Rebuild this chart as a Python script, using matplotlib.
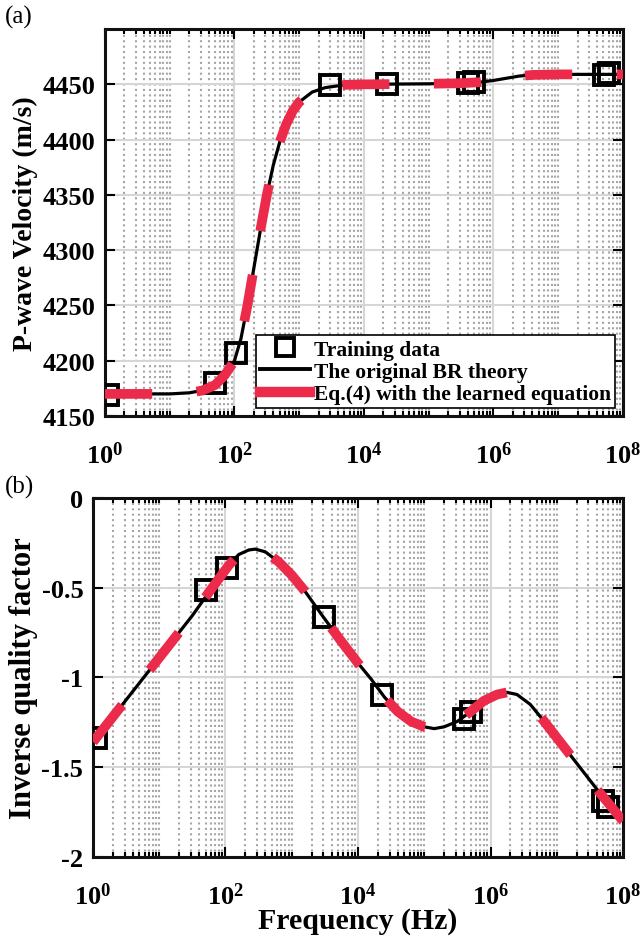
import numpy as np
import matplotlib
matplotlib.use("Agg")
import matplotlib.pyplot as plt
from matplotlib.lines import Line2D
from matplotlib.ticker import FixedLocator, FixedFormatter, NullFormatter

plt.rcParams['font.family'] = ['Liberation Serif', 'DejaVu Serif']
plt.rcParams['font.weight'] = 'bold'
plt.rcParams['mathtext.fontset'] = 'custom'
plt.rcParams['mathtext.rm'] = 'Liberation Serif:bold'
plt.rcParams['mathtext.bf'] = 'Liberation Serif:bold'
plt.rcParams['lines.scale_dashes'] = False

RED = '#EC2B4A'

# training samples, x as log10(frequency / Hz)
train_logf = [0.05, 1.70, 2.03, 3.48, 4.36, 5.60, 5.70, 7.70, 7.78]
train_vp = [4169, 4180, 4207, 4449, 4450, 4451, 4452, 4458, 4460]
train_q = [-1.34, -0.51, -0.39, -0.665, -1.10, -1.23, -1.19, -1.69, -1.72]

# BR theory curves
vp_logf = [0.0, 0.5, 1.0, 1.3, 1.5, 1.7, 1.85, 2.0, 2.1, 2.2, 2.3, 2.4, 2.5, 2.6,
           2.7, 2.8, 2.9, 3.0, 3.2, 3.4, 3.7, 4.0, 5.0, 5.5, 5.8, 6.0, 6.2, 6.4,
           6.6, 7.0, 8.0]
vp_br = [4170, 4170, 4170, 4171, 4173, 4178, 4187, 4200, 4220, 4250, 4284, 4318,
         4350, 4377, 4398, 4414, 4426, 4434, 4443, 4447, 4449.5, 4450, 4450.5,
         4451, 4452, 4453.5, 4455.5, 4457.5, 4458.5, 4459, 4459]
q_logf = [0.0, 0.5, 1.0, 1.5, 1.75, 1.9, 2.05, 2.2, 2.35, 2.45, 2.6, 2.8, 3.0,
          3.2, 3.48, 3.75, 4.0, 4.2, 4.4, 4.6, 4.8, 5.0, 5.15, 5.3, 5.5, 5.7,
          5.9, 6.1, 6.25, 6.4, 6.6, 6.8, 7.0, 7.2, 7.4, 7.6, 7.8, 8.0]
q_br = [-1.36, -1.125, -0.89, -0.655, -0.525, -0.45, -0.375, -0.315, -0.29,
        -0.285, -0.30, -0.355, -0.43, -0.52, -0.665, -0.80, -0.92, -1.01, -1.11,
        -1.19, -1.245, -1.275, -1.285, -1.275, -1.245, -1.19, -1.13, -1.095,
        -1.083, -1.095, -1.15, -1.24, -1.335, -1.43, -1.525, -1.62, -1.71, -1.80]

# learned equation reproduces the theory curve
vp_learned = vp_br
q_learned = q_br

xticks = [1e0, 1e2, 1e4, 1e6, 1e8]
xticklabels = [r'$\mathbf{10^{0}}$', r'$\mathbf{10^{2}}$', r'$\mathbf{10^{4}}$',
               r'$\mathbf{10^{6}}$', r'$\mathbf{10^{8}}$']


def style(ax):
    ax.set_xscale('log')
    ax.set_xlim(1, 1e8)
    ax.xaxis.set_major_locator(FixedLocator(xticks))
    ax.xaxis.set_major_formatter(FixedFormatter(xticklabels))
    minors = [m * 10 ** d for d in range(8) for m in range(1, 10) if not (m == 1 and d % 2 == 0)]
    ax.xaxis.set_minor_locator(FixedLocator(minors))
    ax.xaxis.set_minor_formatter(NullFormatter())
    ax.grid(which='major', color='#d6d6d6', lw=1.5, ls='-')
    ax.grid(which='minor', axis='x', color='#a6a6a6', lw=1.5, ls=(0, (1.5, 2.4)))
    ax.set_axisbelow(True)
    ax.tick_params(which='both', direction='in', top=True, right=True, width=1.5)
    ax.tick_params(which='major', length=7, labelsize=19)
    ax.tick_params(which='minor', length=3.5)
    ax.tick_params(axis='x', which='major', pad=18)
    ax.tick_params(axis='y', which='major', pad=7)
    for s in ax.spines.values():
        s.set_linewidth(2.2)
        s.set_color('#111111')


def draw(ax, yb, yl):
    f_train = 10 ** np.array(train_logf)
    ax.plot(f_train, yb[0], ls='none', marker='s', ms=14, mfc='none', mec='black',
            mew=2.8, zorder=3)
    ax.plot(10 ** np.array(yb[1]), yb[2], color='black', lw=2.3, zorder=4)
    ax.plot(10 ** np.array(yb[1]), yl, color=RED, lw=7, dashes=(34, 32),
            dash_capstyle='butt', zorder=5)


fig = plt.figure(figsize=(6.44, 9.45), dpi=100)
ax1 = fig.add_axes([0.1630, 0.5587, 0.8043, 0.4095])
ax2 = fig.add_axes([0.1444, 0.0921, 0.8230, 0.3799])

style(ax1)
draw(ax1, (train_vp, vp_logf, vp_br), vp_learned)
ax1.set_ylim(4150, 4500)
ax1.set_yticks(np.arange(4150, 4451, 50))
ax1.set_ylabel('P-wave Velocity (m/s)', fontsize=20, fontweight='bold')
ax1.yaxis.set_label_coords(-0.129, 0.5)

handles = [
    Line2D([], [], ls='none', marker='s', ms=13, mfc='none', mec='black', mew=2.8),
    Line2D([], [], color='black', lw=2.8),
    Line2D([], [], color=RED, lw=7.5),
]
leg = ax1.legend(handles, ['Training data', 'The original BR theory',
                           'Eq.(4) with the learned equation'],
                 loc='lower right', fontsize=15.5, frameon=True, fancybox=False,
                 framealpha=1, edgecolor='black', borderaxespad=0.35,
                 handlelength=2.3, handletextpad=0.2, labelspacing=0.1,
                 borderpad=0.2)
leg.get_frame().set_linewidth(1.2)

style(ax2)
draw(ax2, (train_q, q_logf, q_br), q_learned)
ax2.set_ylim(-2, 0)
ax2.set_yticks([-2, -1.5, -1, -0.5, 0])
ax2.set_yticklabels(['-2', '-1.5', '-1', '-0.5', '0'])
ax2.set_ylabel('Inverse quality factor', fontsize=22, fontweight='bold')
ax2.yaxis.set_label_coords(-0.104, 0.5)
ax2.set_xlabel('Frequency (Hz)', fontsize=21.5, fontweight='bold')
ax2.xaxis.set_label_coords(0.5, -0.14)

fig.text(0.008, 1 - 17 / 945, '(a)', fontsize=18, fontweight='normal', va='center')
fig.text(0.008, 1 - 487 / 945, '(b)', fontsize=18, fontweight='normal', va='center')

fig.savefig('out.png', dpi=100)
